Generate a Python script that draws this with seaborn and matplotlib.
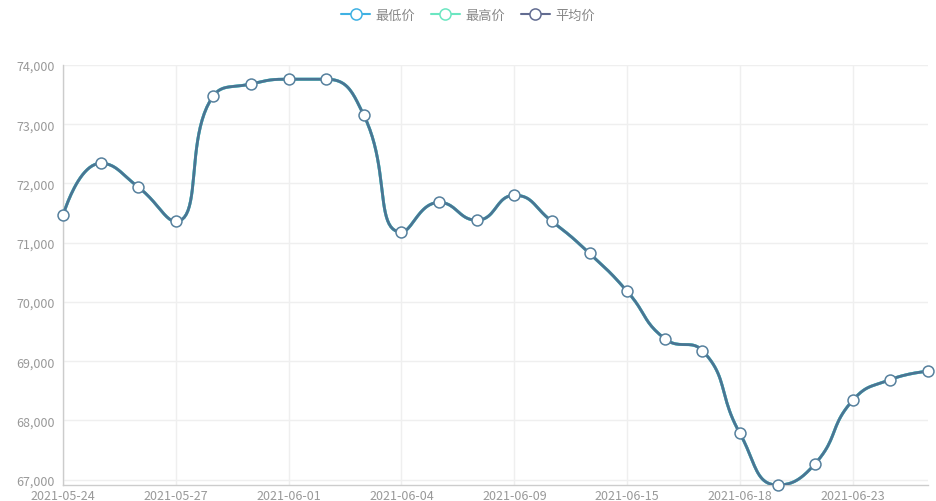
import numpy as np
import pandas as pd
import seaborn as sns
import matplotlib
matplotlib.use("Agg")
import matplotlib.pyplot as plt
from matplotlib.lines import Line2D

dates = ["2021-05-24", "2021-05-25", "2021-05-26", "2021-05-27", "2021-05-28", "2021-05-31",
         "2021-06-01", "2021-06-02", "2021-06-03", "2021-06-04", "2021-06-07", "2021-06-08",
         "2021-06-09", "2021-06-10", "2021-06-11", "2021-06-15", "2021-06-16", "2021-06-17",
         "2021-06-18", "2021-06-21", "2021-06-22", "2021-06-23", "2021-06-24", "2021-06-25"]
low_price = [71460, 72340, 71940, 71360, 73480, 73680, 73760, 73760, 73150, 71180, 71680, 71380,
             71800, 71360, 70820, 70180, 69380, 69180, 67780, 66910, 67270, 68340, 68690, 68830]
high_price = list(low_price)
avg_price = list(low_price)
series_names = ["最低价", "最高价", "平均价"]
series_colors = ["#3fb1e3", "#6be6c1", "#626c91"]
y_ticks = [67000, 68000, 69000, 70000, 71000, 72000, 73000, 74000]

sns.set_style("white")
plt.rcParams["font.family"] = ["Noto Sans CJK SC", "DejaVu Sans"]

fig = plt.figure(figsize=(9.36, 5.02), dpi=100)
ax = fig.add_axes([63 / 936, 16 / 502, (928 - 63) / 936, (486 - 66) / 502])

x_idx = np.arange(len(dates))
ymin = min(low_price)
ymax = 74000
ax.set_xlim(0, len(dates) - 1)
ax.set_ylim(ymin, ymax)

# pixel scales for smoothing (ECharts-like constrained bezier smoothing, smooth=0.5)
sx = (928 - 63) / (len(dates) - 1)
sy = (486 - 66) / (ymax - ymin)


def smooth_curve(xs, ys, smooth=0.5, n=24):
    X = np.asarray(xs, float) * sx
    Y = np.asarray(ys, float) * sy
    m = len(X)
    cin = [None] * m
    cout = [None] * m
    cin[0] = (X[0], Y[0])
    cout[0] = (X[0], Y[0])
    cin[m - 1] = (X[m - 1], Y[m - 1])
    cout[m - 1] = (X[m - 1], Y[m - 1])
    for i in range(1, m - 1):
        x, y = X[i], Y[i]
        px, py = X[i - 1], Y[i - 1]
        nx, ny = X[i + 1], Y[i + 1]
        vx, vy = nx - px, ny - py
        d0 = np.hypot(x - px, y - py)
        d1 = np.hypot(nx - x, ny - y)
        r = d1 / (d0 + d1)
        ncx = x + vx * smooth * r
        ncy = y + vy * smooth * r
        ncx = min(max(ncx, min(nx, x)), max(nx, x))
        ncy = min(max(ncy, min(ny, y)), max(ny, y))
        vx, vy = ncx - x, ncy - y
        c1x = x - vx * d0 / d1
        c1y = y - vy * d0 / d1
        c1x = min(max(c1x, min(px, x)), max(px, x))
        c1y = min(max(c1y, min(py, y)), max(py, y))
        vx, vy = x - c1x, y - c1y
        ncx = x + vx * d1 / d0
        ncy = y + vy * d1 / d0
        cin[i] = (c1x, c1y)
        cout[i] = (ncx, ncy)
    t = np.linspace(0, 1, n)[:, None]
    segs = []
    for i in range(m - 1):
        p0 = np.array([X[i], Y[i]])
        p1 = np.array(cout[i])
        p2 = np.array(cin[i + 1])
        p3 = np.array([X[i + 1], Y[i + 1]])
        b = ((1 - t) ** 3) * p0 + 3 * ((1 - t) ** 2) * t * p1 + 3 * (1 - t) * t ** 2 * p2 + t ** 3 * p3
        segs.append(b if i == 0 else b[1:])
    pts = np.vstack(segs)
    return pts[:, 0] / sx, pts[:, 1] / sy


# grid
for v in y_ticks:
    ax.axhline(v, color="#efefef", lw=1, zorder=0)
for i in range(0, len(dates), 3):
    ax.axvline(i, color="#efefef", lw=1, zorder=0)

all_series = [low_price, high_price, avg_price]
widths = [2.1, 2.1, 2.0]
draw_colors = ["#3fb1e3", "#6be6c1", "#4a7494"]
for vals, c, w in zip(all_series, draw_colors, widths):
    cx, cy = smooth_curve(x_idx, vals)
    sns.lineplot(x=cx, y=cy, sort=False, estimator=None, color=c, lw=w, ax=ax, zorder=3)

df = pd.DataFrame({"i": x_idx, "v": avg_price})
sns.scatterplot(data=df, x="i", y="v", s=62, color="white", edgecolor="#56809d",
                linewidth=1.1, ax=ax, zorder=5, clip_on=False)

ax.set_xticks(range(0, len(dates), 3))
ax.set_xticklabels([dates[i] for i in range(0, len(dates), 3)])
ax.set_yticks(y_ticks)
ax.set_yticklabels([f"{v:,}" for v in y_ticks])
ax.tick_params(axis="both", length=0, labelsize=9, labelcolor="#999999")
ax.tick_params(axis="x", pad=3)
ax.tick_params(axis="y", pad=6)
ax.set_xlabel("")
ax.set_ylabel("")
for s in ["top", "right"]:
    ax.spines[s].set_visible(False)
for s in ["left", "bottom"]:
    ax.spines[s].set_color("#cccccc")
    ax.spines[s].set_linewidth(1)

handles = [Line2D([0], [0], color=c, lw=1.5, marker="o", markersize=8,
                  markerfacecolor="white", markeredgecolor=c, markeredgewidth=1.1)
           for c in series_colors]
leg = fig.legend(handles, series_names, loc="center", bbox_to_anchor=(0.5, 1 - 16 / 502),
                 ncol=3, frameon=False, fontsize=9.5, handlelength=2.2, handletextpad=0.4,
                 columnspacing=1.2)
for t in leg.get_texts():
    t.set_color("#888888")

fig.savefig("out.png", dpi=100)
